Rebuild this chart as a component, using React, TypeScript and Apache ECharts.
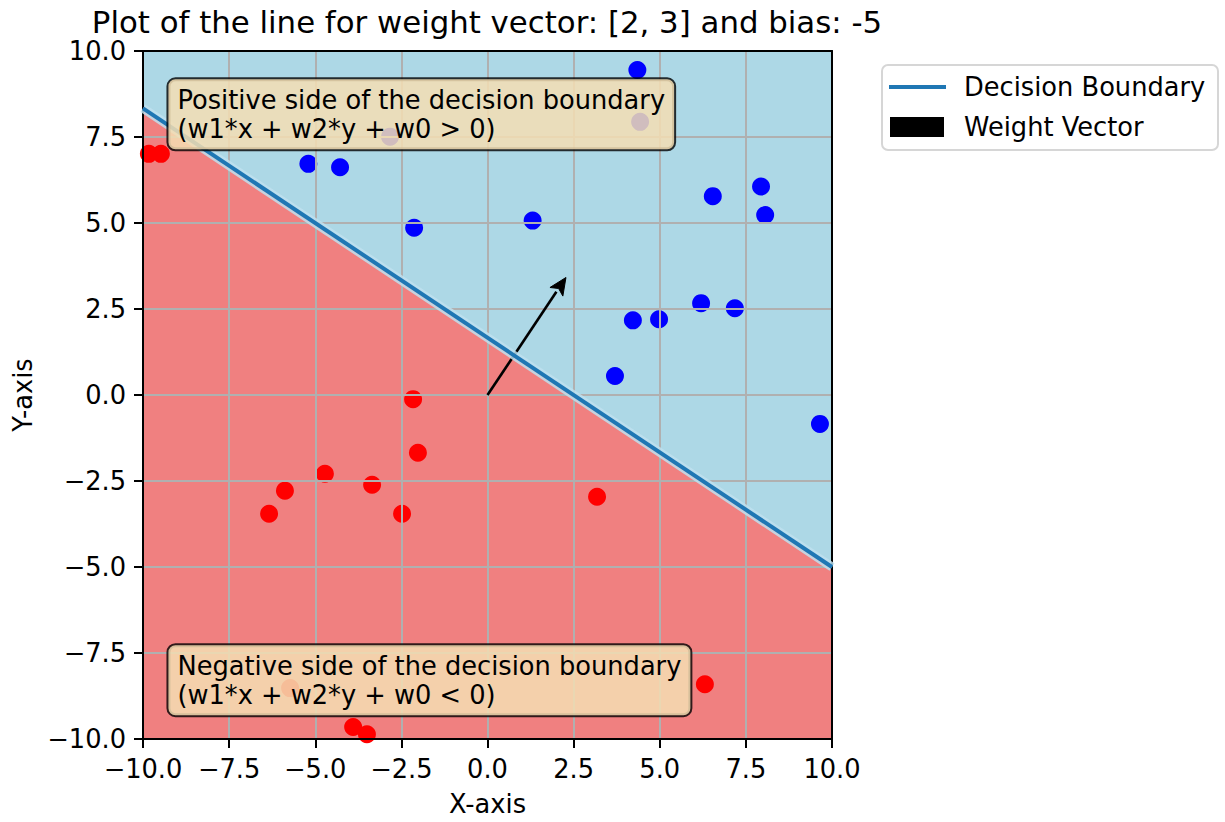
import React, { useEffect, useRef } from "react";
import * as echarts from "echarts";

// ---- data ----
const weights = [2, 3];
const bias = -5;
const arrowHeadLength = 0.5;
const arrowHeadWidth = 0.45;

const blueX = [-5.2, -4.28, -2.13, 1.31, 4.35, 6.54, 7.94, 8.06, 6.2, 7.18, 4.22, 4.98, 3.7, 9.65, -2.83, 4.43];
const blueY = [6.72, 6.62, 4.86, 5.07, 9.45, 5.78, 6.06, 5.23, 2.67, 2.52, 2.17, 2.2, 0.55, -0.84, 7.51, 7.94];
const redX = [-9.83, -9.48, -2.16, -2.02, -4.72, -3.35, -5.88, -6.34, -2.48, 3.18, 6.31, -3.9, -3.5, -5.73];
const redY = [7.01, 7.01, -0.12, -1.68, -2.29, -2.61, -2.78, -3.45, -3.45, -2.96, -8.41, -9.65, -9.86, -8.52];

const axisMin = -10;
const axisMax = 10;
const tickInterval = 2.5;

const annotationTexts = [
  "Positive side of the decision boundary\n(w1*x + w2*y + w0 > 0)",
  "Negative side of the decision boundary\n(w1*x + w2*y + w0 < 0)",
];
const annotationAnchors = [
  [-9, 8.16],
  [-9, -8.29],
];

const titleText = `Plot of the line for weight vector: [${weights.join(", ")}] and bias: ${bias}`;
const legendNames = ["Decision Boundary", "Weight Vector"];

const FONT = "DejaVu Sans";
const FS = 25.7;

const boundaryY = (x: number) => -(weights[0] * x + bias) / weights[1];

export default function App() {
  const ref = useRef<HTMLDivElement>(null);
  useEffect(() => {
    document.body.style.margin = "0";
    const chart = echarts.init(ref.current!, null, { renderer: "svg" });
    const fmt = (v: number) => v.toFixed(1).replace("-", "\u2212");
    const axisCommon = {
      type: "value",
      min: axisMin,
      max: axisMax,
      interval: tickInterval,
      z: 2,
    };
    const mainAxis = (isX: boolean) => ({
      ...axisCommon,
      name: isX ? "X-axis" : "Y-axis",
      nameLocation: "middle",
      nameGap: isX ? 52 : 103,
      nameTextStyle: { fontFamily: FONT, fontSize: FS, color: "#000" },
      axisLine: { show: true, onZero: false, lineStyle: { color: "#000", width: 2 } },
      axisTick: { show: true, inside: false, length: 9, lineStyle: { color: "#000", width: 2 } },
      axisLabel: { fontFamily: FONT, fontSize: FS, color: "#000", margin: 17, formatter: fmt, showMinLabel: true, showMaxLabel: true },
      splitLine: { show: true, lineStyle: { color: "#b0b0b0", width: 2 } },
    });
    const frameAxis = (pos: string) => ({
      ...axisCommon,
      position: pos,
      axisLine: { show: true, onZero: false, lineStyle: { color: "#000", width: 2 } },
      axisTick: { show: false },
      axisLabel: { show: false },
      splitLine: { show: false },
    });

    const xs = [axisMin, axisMax];
    const lineData = xs.map((x) => [x, boundaryY(x)]);
    const norm = Math.hypot(weights[0], weights[1]);
    const tip = [
      weights[0] + (arrowHeadLength * weights[0]) / norm,
      weights[1] + (arrowHeadLength * weights[1]) / norm,
    ];

    chart.setOption({
      animation: false,
      title: {
        text: titleText,
        left: 487,
        top: 6,
        padding: 0,
        textAlign: "center",
        textStyle: { fontFamily: FONT, fontSize: 30.8, fontWeight: "normal", color: "#000", lineHeight: 32 },
      },
      grid: { left: 143, top: 51, width: 689, height: 690, containLabel: false },
      xAxis: [mainAxis(true), frameAxis("top")],
      yAxis: [mainAxis(false), frameAxis("right")],
      series: [
        {
          type: "custom",
          z: 0,
          silent: true,
          data: [0],
          renderItem: (params: any, api: any) => {
            const y0 = boundaryY(axisMin);
            const y1 = boundaryY(axisMax);
            const blue = [
              [axisMin, y0],
              [axisMax, y1],
              [axisMax, axisMax],
              [axisMin, axisMax],
            ].map((p) => api.coord(p));
            const red = [
              [axisMin, axisMin],
              [axisMax, axisMin],
              [axisMax, y1],
              [axisMin, y0],
            ].map((p) => api.coord(p));
            return {
              type: "group",
              children: [
                { type: "polygon", shape: { points: red }, style: { fill: "#f08080" } },
                { type: "polygon", shape: { points: blue }, style: { fill: "#add8e6" } },
              ],
            };
          },
        },
        {
          type: "scatter",
          z: 1,
          symbolSize: 18,
          itemStyle: { color: "#0000ff", opacity: 1 },
          data: blueX.map((x, i) => [x, blueY[i]]),
        },
        {
          type: "scatter",
          z: 1,
          symbolSize: 18,
          itemStyle: { color: "#ff0000", opacity: 1 },
          data: redX.map((x, i) => [x, redY[i]]),
        },
        {
          type: "line",
          z: 3,
          silent: true,
          symbol: "none",
          lineStyle: { color: "rgba(190,225,238,0.85)", width: 9 },
          data: lineData,
        },
        {
          name: legendNames[0],
          type: "line",
          z: 3,
          symbol: "none",
          lineStyle: { color: "#1f77b4", width: 4 },
          data: lineData,
        },
        {
          name: legendNames[1],
          type: "custom",
          z: 3,
          data: [[0, 0]],
          renderItem: (params: any, api: any) => {
            const start = api.coord([0, 0]);
            const base = api.coord(weights);
            const end = api.coord(tip);
            const dx = end[0] - start[0];
            const dy = end[1] - start[1];
            const len = Math.hypot(dx, dy);
            const ux = dx / len;
            const uy = dy / len;
            const hw = (arrowHeadWidth / 2) * (689 / 20);
            const px = -uy;
            const py = ux;
            return {
              type: "group",
              children: [
                {
                  type: "line",
                  shape: { x1: start[0], y1: start[1], x2: base[0], y2: base[1] },
                  style: { stroke: "#000", lineWidth: 2.6 },
                },
                {
                  type: "polygon",
                  shape: {
                    points: [
                      end,
                      [base[0] + px * hw, base[1] + py * hw],
                      [base[0] + ux * 4, base[1] + uy * 4],
                      [base[0] - px * hw, base[1] - py * hw],
                    ],
                  },
                  style: { fill: "#000", stroke: "#000", lineWidth: 1 },
                },
              ],
            };
          },
        },
        {
          type: "custom",
          z: 4,
          silent: true,
          data: annotationAnchors,
          renderItem: (params: any, api: any) => {
            const p = api.coord([api.value(0), api.value(1)]);
            return {
              type: "text",
              x: p[0] - 9,
              y: p[1],
              style: {
                text: annotationTexts[params.dataIndex],
                fontFamily: FONT,
                fontSize: FS,
                lineHeight: 29,
                fill: "#000",
                align: "left",
                verticalAlign: "middle",
                backgroundColor: "rgba(245,222,179,0.85)",
                borderColor: "rgba(0,0,0,0.8)",
                borderWidth: 2,
                borderRadius: 7,
                padding: [6, 9, 6, 9],
              },
            };
          },
        },
      ],
      graphic: [
        {
          type: "group",
          left: 881,
          top: 64,
          children: [
            {
              type: "rect",
              shape: { x: 0, y: 0, width: 336, height: 85, r: 6 },
              style: { fill: "#fff", stroke: "#d6d6d6", lineWidth: 2 },
            },
            {
              type: "line",
              shape: { x1: 7, y1: 22, x2: 64, y2: 22 },
              style: { stroke: "#1f77b4", lineWidth: 4 },
            },
            {
              type: "rect",
              shape: { x: 8, y: 52, width: 54, height: 20 },
              style: { fill: "#000" },
            },
            {
              type: "text",
              x: 82,
              y: 22,
              style: { text: legendNames[0], fontFamily: FONT, fontSize: FS, fill: "#000", verticalAlign: "middle" },
            },
            {
              type: "text",
              x: 82,
              y: 62,
              style: { text: legendNames[1], fontFamily: FONT, fontSize: FS, fill: "#000", verticalAlign: "middle" },
            },
          ],
        },
      ],
    });
    return () => chart.dispose();
  }, []);
  return <div ref={ref} style={{ width: 1225, height: 822 }} />;
}
